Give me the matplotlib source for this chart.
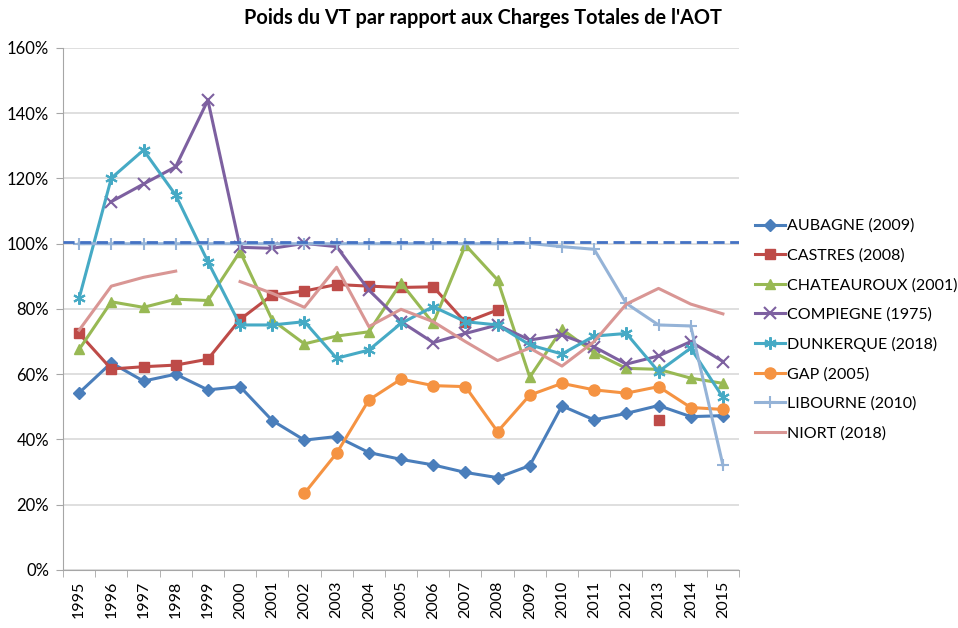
import numpy as np
import matplotlib
matplotlib.use("Agg")
import matplotlib.pyplot as plt
from matplotlib.ticker import PercentFormatter, FixedLocator

plt.rcParams['font.family'] = ['Lato', 'DejaVu Sans']

nan = np.nan
years = [str(y) for y in range(1995, 2016)]

aubagne = [0.543, 0.635, 0.579, 0.600, 0.552, 0.562, 0.458, 0.398, 0.409, 0.360, 0.339,
           0.322, 0.299, 0.283, 0.320, 0.503, 0.460, 0.480, 0.504, 0.470, 0.473]
castres = [0.725, 0.616, 0.623, 0.628, 0.646, 0.768, 0.843, 0.855, 0.875, 0.870, 0.866,
           0.868, 0.759, 0.797, nan, nan, nan, nan, 0.460, nan, nan]
chateauroux = [0.676, 0.822, 0.805, 0.830, 0.826, 0.976, 0.766, 0.693, 0.717, 0.730, 0.880,
               0.756, 0.996, 0.889, 0.591, 0.738, 0.666, 0.618, 0.615, 0.588, 0.572]
compiegne = [nan, 1.129, 1.183, 1.236, 1.440, 0.989, 0.986, 1.001, 0.991, 0.858, 0.761,
             0.697, 0.725, 0.751, 0.705, 0.720, 0.684, 0.631, 0.656, 0.700, 0.639]
dunkerque = [0.833, 1.201, 1.287, 1.149, 0.945, 0.751, 0.751, 0.761, 0.649, 0.674, 0.756,
             0.807, 0.761, 0.751, 0.690, 0.662, 0.717, 0.725, 0.608, 0.680, 0.529]
gap = [nan, nan, nan, nan, nan, nan, nan, 0.235, 0.358, 0.521, 0.585, 0.565, 0.562,
       0.424, 0.536, 0.572, 0.552, 0.542, 0.562, 0.498, 0.492]
libourne = [1.0, 1.0, 1.0, 1.0, 1.0, 1.0, 1.0, 1.0, 1.0, 1.0, 1.0, 1.0, 1.0, 1.0,
            1.001, 0.991, 0.983, 0.817, 0.751, 0.748, 0.322]
niort = [0.735, 0.870, 0.897, 0.916, nan, 0.884, 0.848, 0.805, 0.928, 0.746, 0.799,
         0.761, 0.700, 0.642, 0.680, 0.625, 0.700, 0.815, 0.863, 0.815, 0.785]
reference = 1.006

labels = ['AUBAGNE (2009)', 'CASTRES (2008)', 'CHATEAUROUX (2001)', 'COMPIEGNE (1975)',
          'DUNKERQUE (2018)', 'GAP (2005)', 'LIBOURNE (2010)', 'NIORT (2018)']
series = [aubagne, castres, chateauroux, compiegne, dunkerque, gap, libourne, niort]
colors = ['#4A7EBB', '#BE4B48', '#98B954', '#7D60A0', '#46AAC5', '#F59342', '#95B3D7', '#D99694']
markers = ['D', 's', '^', 'x', (6, 2, 0), 'o', '+', None]
msizes = [6, 7.5, 7.5, 8, 9, 8, 9, 0]

fig = plt.figure(figsize=(9.58, 6.28), dpi=100)
ax = fig.add_axes([0.0658, 0.0924, 0.7056, 0.8312])

x = np.arange(len(years))
for vals, lab, col, mk, ms in zip(series, labels, colors, markers, msizes):
    ax.plot(x, vals, color=col, marker=mk, markersize=ms, linewidth=2.2,
            markeredgewidth=1.5 if mk in ('x', '+') or isinstance(mk, tuple) else 1,
            label=lab, zorder=3)

ax.axhline(reference, color='#4472C4', linestyle=(0, (4, 2)), linewidth=2, zorder=4)

ax.set_xlim(-0.5, len(years) - 0.5)
ax.set_ylim(0, 1.6)
ax.yaxis.set_major_locator(FixedLocator(np.arange(0, 1.61, 0.2)))
ax.yaxis.set_major_formatter(PercentFormatter(1.0, decimals=0))
ax.set_xticks(x)
ax.set_xticklabels(years, rotation=90, fontsize=11.5)
ax.xaxis.set_minor_locator(FixedLocator(np.arange(-0.5, len(years), 1)))
ax.tick_params(axis='x', which='major', length=0, pad=8)
ax.tick_params(axis='x', which='minor', length=5, color='#A6A6A6')
ax.tick_params(axis='y', length=5, color='#A6A6A6', labelsize=12, pad=5)
ax.grid(axis='y', color='#D9D9D9', linewidth=1.2, zorder=0)
for s in ['top', 'right']:
    ax.spines[s].set_visible(False)
for s in ['left', 'bottom']:
    ax.spines[s].set_color('#A6A6A6')

fig.text(0.504, 0.972, "Poids du VT par rapport aux Charges Totales de l'AOT",
         ha='center', va='center', fontsize=14.3, fontweight='bold')

ax.legend(loc='center left', bbox_to_anchor=(0.788, 0.475), bbox_transform=fig.transFigure,
          frameon=False, fontsize=11.5, labelspacing=0.95, handlelength=1.9,
          handletextpad=0.1, borderaxespad=0, borderpad=0)

fig.savefig('out.png', dpi=100)
